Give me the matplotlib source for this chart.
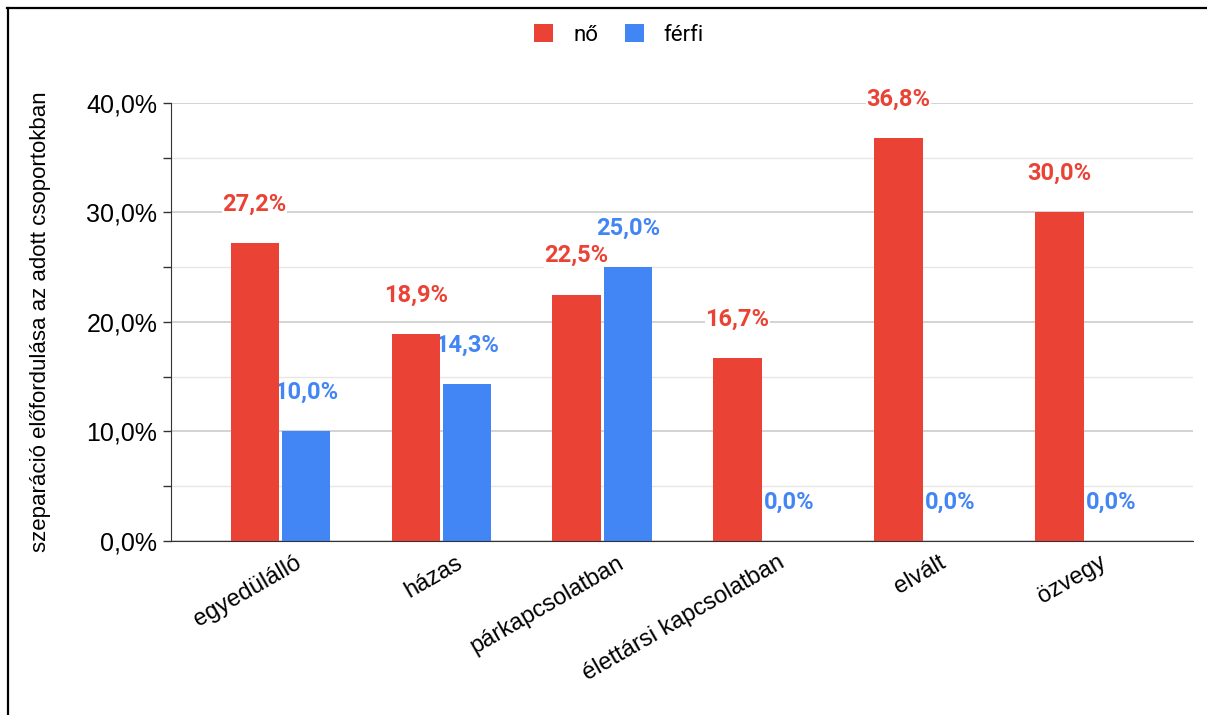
import numpy as np
import matplotlib.pyplot as plt
import matplotlib.transforms as mtransforms
from matplotlib.lines import Line2D
from matplotlib.patches import Patch

categories = ["egyedülálló", "házas", "párkapcsolatban",
              "élettársi kapcsolatban", "elvált", "özvegy"]
no_values = [27.2, 18.9, 22.5, 16.7, 36.8, 30.0]
ferfi_values = [10.0, 14.3, 25.0, 0.0, 0.0, 0.0]
series_names = ["nő", "férfi"]
y_ticks = [0, 10, 20, 30, 40]

RED = "#EA4335"
BLUE = "#4285F4"


def pct(v):
    return f"{v:.1f}%".replace(".", ",")


fig = plt.figure(figsize=(12.07, 7.15), dpi=100)
ax = fig.add_axes([0.1417, 0.2434, 0.8467, 0.6126])

x = np.arange(len(categories))
w = 0.30
off = 0.16
ax.bar(x - off, no_values, width=w, color=RED, zorder=3)
ax.bar(x + off, ferfi_values, width=w, color=BLUE, zorder=3)

# data labels floating above each bar
lab_off = mtransforms.offset_copy(ax.transData, fig=fig, x=0, y=39, units="dots")
for xs, vals, col in [(x - off, no_values, RED), (x + off, ferfi_values, BLUE)]:
    for xi, v in zip(xs, vals):
        ax.text(xi, v, pct(v), transform=lab_off, ha="center", va="center",
                color=col, fontsize=17, fontweight="bold", family="Roboto",
                bbox=dict(facecolor="white", edgecolor="none", pad=0.3),
                zorder=2.5)

ax.set_ylim(0, 40)
ax.set_xlim(-0.68, 5.67)
ax.set_yticks(y_ticks)
ax.set_yticklabels([pct(v) for v in y_ticks], fontsize=18, family="Liberation Sans")
ax.set_yticks([5, 15, 25, 35], minor=True)
ax.grid(axis="y", which="major", color="#cccccc", linewidth=1.2, zorder=0)
ax.grid(axis="y", which="minor", color="#e6e6e6", linewidth=1.0, zorder=0)
ax.tick_params(axis="y", which="both", length=6, width=1, color="#333333", pad=4)
ax.tick_params(axis="x", length=0)

ax.set_xticks(x)
ax.set_xticklabels(categories, rotation=30, ha="right", rotation_mode="anchor",
                   fontsize=17, family="Liberation Sans")
shift = mtransforms.ScaledTranslation(14 / 100, -6 / 100, fig.dpi_scale_trans)
for lbl in ax.get_xticklabels():
    lbl.set_transform(lbl.get_transform() + shift)

for s in ["top", "right"]:
    ax.spines[s].set_visible(False)
ax.spines["left"].set_color("#333333")
ax.spines["bottom"].set_color("#333333")
ax.spines["left"].set_zorder(5)
ax.spines["bottom"].set_zorder(5)

ax.set_ylabel("szeparáció előfordulása az adott csoportokban", fontsize=16,
              family="Liberation Sans")
ax.yaxis.set_label_coords(-0.117, 0.5)

handles = [Patch(facecolor=RED), Patch(facecolor=BLUE)]
fig.legend(handles, series_names, loc="center", bbox_to_anchor=(0.513, 0.951),
           ncol=2, frameon=False, prop={"family": "Roboto", "size": 16},
           handlelength=0.85, handleheight=0.85, columnspacing=1.2, handletextpad=0.9)

# frame lines on the left and top
fig.add_artist(Line2D([7.5 / 1207, 7.5 / 1207], [0, 1 - 8 / 715],
                      transform=fig.transFigure, color="black", linewidth=1.6))
fig.add_artist(Line2D([7 / 1207, 1], [1 - 8 / 715, 1 - 8 / 715],
                      transform=fig.transFigure, color="black", linewidth=1.6))

fig.savefig("out.png", dpi=100)
